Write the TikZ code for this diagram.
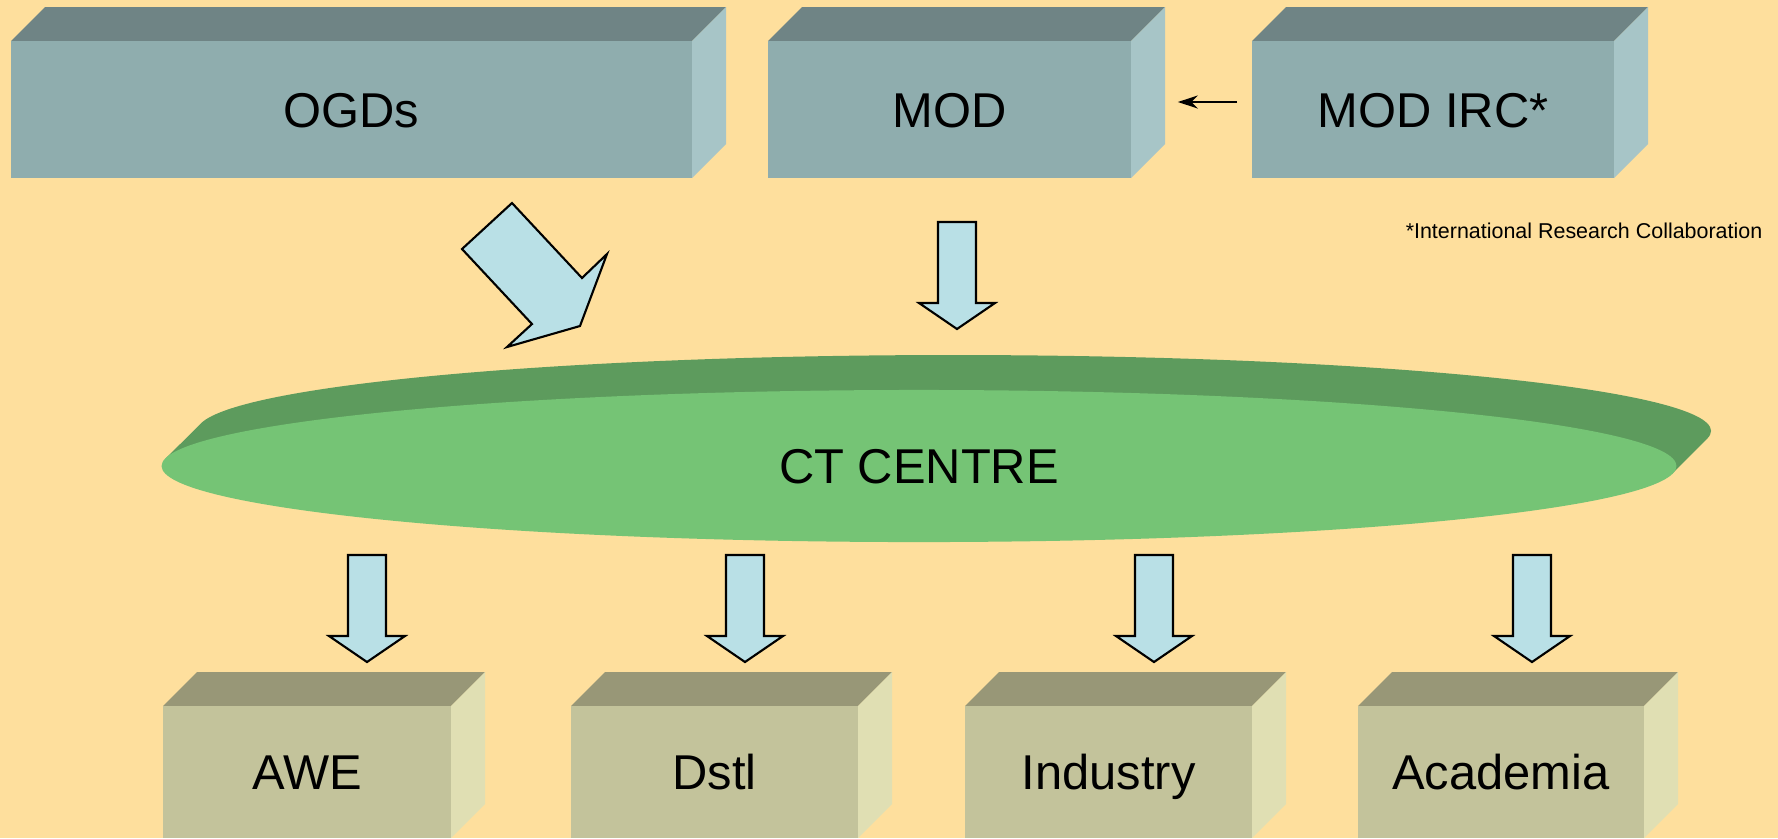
\documentclass[tikz,border=0pt]{standalone}
\usepackage{fontspec}
\setmainfont{Liberation Sans}
\usepackage{tikz}
\usetikzlibrary{arrows.meta,shapes.geometric}
\definecolor{bgyellow}{RGB}{254,223,157}
\definecolor{tealfront}{RGB}{143,173,174}
\definecolor{tealtop}{RGB}{111,132,133}
\definecolor{tealside}{RGB}{167,197,199}
\definecolor{olivefront}{RGB}{195,195,155}
\definecolor{olivetop}{RGB}{152,151,119}
\definecolor{oliveside}{RGB}{224,223,179}
\definecolor{ctgreen}{RGB}{117,196,117}
\definecolor{ctdark}{RGB}{93,155,93}
\definecolor{arrowblue}{RGB}{185,224,230}

\tikzset{
  labeltext/.style={font=\fontsize{13.9}{16}\selectfont, text height=9.95pt, text depth=0pt},
  flow/.style={draw=black, line width=0.6pt, fill=arrowblue},
}

% box with top and side: name, x1, y1, x2, y2, colour, text
\newcommand{\slab}[7]{
  \fill[#6top] (#2,#3) -- (#2+34,#3-34) -- (#4+34,#3-34) -- (#4,#3) -- cycle;
  \fill[#6side] (#4,#3) -- (#4+34,#3-34) -- (#4+34,#5-34) -- (#4,#5) -- cycle;
  \node[fill=#6front, minimum width={(#4-#2)*0.1mm}, minimum height={(#5-#3)*0.1mm}, inner sep=0, labeltext] (#1) at ({(#2+#4)/2},{(#3+#5)/2}) {#7};
}
% block arrow downwards: centre x, top y
\newcommand{\downflow}[2]{
  \draw[flow] (#1-19,#2) -- (#1+19,#2) -- (#1+19,#2+81) -- (#1+38,#2+81) -- (#1,#2+107) -- (#1-38,#2+81) -- (#1-19,#2+81) -- cycle;
}

\begin{document}
\begin{tikzpicture}[x=0.01cm, y=-0.01cm]
			\fill[bgyellow] (0,0) rectangle (1778,838);
			\clip (0,0) rectangle (1778,838);
			% top row
			\slab{ogds}{11}{41}{692}{178}{teal}{OGDs}
			\slab{mod}{768}{41}{1131}{178}{teal}{MOD}
			\slab{irc}{1252}{41}{1614}{178}{teal}{MOD IRC*}
			\draw[-{Stealth[length=2mm,width=1.3mm]}, line width=0.6pt, shorten <=1.4mm, shorten >=4.6mm] ([yshift=0.75mm]irc.west) -- ([yshift=0.75mm]mod.east);
			\node[anchor=east, inner sep=0, font=\fontsize{6.1}{7}\selectfont] (note) at (1763,231) {*International Research Collaboration};
			% arrows into the centre
			\draw[flow] (512,203) -- (462,249) -- (532,324) -- (507,347) -- (580,326) -- (607,254) -- (582,278) -- cycle;
			\downflow{957}{222}
			% centre disc
			\fill[ctdark] (1672.2,473.6) -- (1707.2,438.6) arc[start angle=5.73, end angle=-174.27, x radius=757, y radius=76] -- (165.8,458.4) -- cycle;
			\node[ellipse, fill=ctgreen, minimum width=151.4mm, minimum height=15.2mm, inner sep=0, labeltext] (ct) at (919,466) {CT CENTRE};
			% arrows out of the centre
			\downflow{367}{555}
			\downflow{745}{555}
			\downflow{1154}{555}
			\downflow{1532}{555}
			% bottom row
			\slab{awe}{163}{706}{451}{838}{olive}{AWE}
			\slab{dstl}{571}{706}{858}{838}{olive}{Dstl}
			\slab{industry}{965}{706}{1252}{838}{olive}{Industry}
			\slab{academia}{1358}{706}{1644}{838}{olive}{Academia}
		\end{tikzpicture}
\end{document}
